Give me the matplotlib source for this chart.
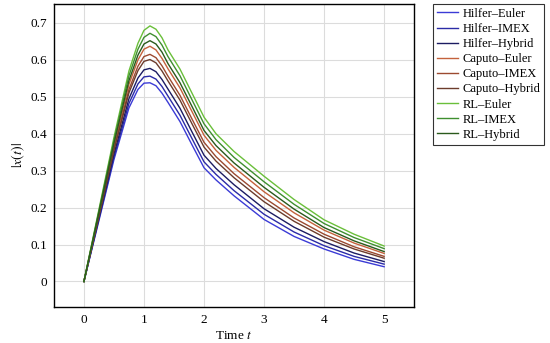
import numpy as np
import matplotlib
matplotlib.use("Agg")
from matplotlib import pyplot as plt

plt.rcParams['font.family'] = ['Liberation Serif', 'DejaVu Serif']
plt.rcParams['mathtext.fontset'] = 'stix'

# time samples
t = [0, 0.25, 0.5, 0.75, 0.9, 1.0, 1.1, 1.2, 1.3, 1.4, 1.6, 1.8, 2.0, 2.2, 2.5, 3.0, 3.5, 4.0, 4.5, 5.0]

hilfer_euler  = [0, 0.165, 0.330, 0.470, 0.520, 0.537, 0.538, 0.530, 0.510, 0.485, 0.433, 0.370, 0.308, 0.275, 0.232, 0.168, 0.122, 0.088, 0.060, 0.040]
hilfer_imex   = [0, 0.169, 0.337, 0.482, 0.535, 0.554, 0.556, 0.548, 0.528, 0.502, 0.450, 0.387, 0.324, 0.290, 0.246, 0.182, 0.134, 0.097, 0.068, 0.047]
hilfer_hybrid = [0, 0.173, 0.345, 0.495, 0.551, 0.573, 0.577, 0.568, 0.547, 0.521, 0.469, 0.405, 0.342, 0.306, 0.262, 0.197, 0.147, 0.108, 0.077, 0.054]
caputo_euler  = [0, 0.184, 0.368, 0.534, 0.600, 0.629, 0.637, 0.627, 0.604, 0.576, 0.524, 0.460, 0.396, 0.355, 0.309, 0.243, 0.186, 0.139, 0.104, 0.076]
caputo_imex   = [0, 0.180, 0.360, 0.520, 0.583, 0.609, 0.615, 0.606, 0.584, 0.556, 0.504, 0.440, 0.377, 0.338, 0.292, 0.227, 0.172, 0.128, 0.094, 0.068]
caputo_hybrid = [0, 0.177, 0.355, 0.511, 0.571, 0.596, 0.601, 0.592, 0.570, 0.543, 0.491, 0.427, 0.364, 0.326, 0.281, 0.216, 0.163, 0.120, 0.088, 0.063]
rl_euler      = [0, 0.195, 0.390, 0.570, 0.645, 0.680, 0.692, 0.683, 0.660, 0.627, 0.575, 0.510, 0.445, 0.400, 0.352, 0.285, 0.222, 0.167, 0.128, 0.096]
rl_imex       = [0, 0.191, 0.382, 0.557, 0.629, 0.661, 0.672, 0.663, 0.640, 0.609, 0.557, 0.492, 0.427, 0.384, 0.336, 0.270, 0.209, 0.157, 0.119, 0.089]
rl_hybrid     = [0, 0.187, 0.374, 0.544, 0.613, 0.643, 0.652, 0.643, 0.621, 0.590, 0.538, 0.474, 0.409, 0.368, 0.321, 0.255, 0.196, 0.146, 0.110, 0.081]

labels = ['Hilfer–Euler', 'Hilfer–IMEX', 'Hilfer–Hybrid',
          'Caputo–Euler', 'Caputo–IMEX', 'Caputo–Hybrid',
          'RL–Euler', 'RL–IMEX', 'RL–Hybrid']
series = [hilfer_euler, hilfer_imex, hilfer_hybrid,
          caputo_euler, caputo_imex, caputo_hybrid,
          rl_euler, rl_imex, rl_hybrid]
colors = ['#3b3bd6', '#2b2ba6', '#1c1c62',
          '#c4623c', '#9c4a30', '#6c3c2c',
          '#6abf3a', '#3f8f2f', '#2a5a1c']

fig = plt.figure(figsize=(5.5, 3.43), dpi=100)
ax = fig.add_axes([0.098, 0.105, 0.655, 0.883])

for y, lab, c in zip(series, labels, colors):
    ax.plot(t, y, color=c, lw=1.0, label=lab)

ax.set_xlim(-0.5, 5.5)
ax.set_ylim(-0.069, 0.751)
ax.set_xticks([0, 1, 2, 3, 4, 5])
ax.set_yticks([0, 0.1, 0.2, 0.3, 0.4, 0.5, 0.6, 0.7])
ax.set_yticklabels(['0', '0.1', '0.2', '0.3', '0.4', '0.5', '0.6', '0.7'])
ax.grid(True, color='#dcdcdc', lw=0.8)
ax.set_axisbelow(True)
ax.tick_params(length=0, labelsize=9.5, pad=5)
for s in ax.spines.values():
    s.set_linewidth(1.0)

ax.set_xlabel('Time $t$', fontsize=9.5, labelpad=3)
ax.set_ylabel('$|x(t)|$', fontsize=10, labelpad=2)

leg = fig.legend(loc='upper left', bbox_to_anchor=(0.787, 0.988), fontsize=9,
                 frameon=True, fancybox=False, edgecolor='black',
                 handlelength=1.7, handletextpad=0.4, labelspacing=0.25,
                 borderpad=0.3, borderaxespad=0)
leg.get_frame().set_linewidth(0.8)

plt.savefig('out.png', dpi=100)
